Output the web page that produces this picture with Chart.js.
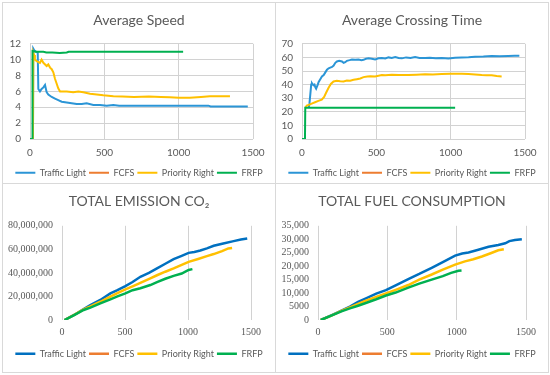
<!DOCTYPE html>
<html>
<head>
<meta charset="utf-8">
<script src="https://cdn.jsdelivr.net/npm/chart.js@4.4.1/dist/chart.umd.min.js"></script>
<style>
  body { margin: 0; width: 550px; height: 375px; background: #fff; position: relative; overflow: hidden; }
  .frame { position: absolute; left: 2px; top: 2px; width: 547px; height: 371px; border: 1px solid #d9d9d9; box-sizing: border-box; }
  .vline { position: absolute; left: 275px; top: 2px; width: 1px; height: 371px; background: #d9d9d9; }
  .hline { position: absolute; left: 2px; top: 183px; width: 547px; height: 1px; background: #d9d9d9; }
  canvas { position: absolute; }
</style>
</head>
<body>
<div class="frame"></div>
<div class="vline"></div>
<div class="hline"></div>
<canvas id="speed" width="272" height="180" style="left:3px;top:3px"></canvas>
<canvas id="crossing" width="272" height="180" style="left:276px;top:3px"></canvas>
<canvas id="emission" width="272" height="180" style="left:3px;top:184px"></canvas>
<canvas id="fuel" width="272" height="180" style="left:276px;top:184px"></canvas>
<script>
    var seriesNames = ['Traffic Light', 'FCFS', 'Priority Right', 'FRFP'];

    // Average Speed
    var speedTrafficX = [0, 20, 22, 28, 40, 52, 56, 67, 78, 90, 101, 112, 123, 146, 168, 190, 213, 247, 280, 314, 348, 381, 426, 471, 516, 560, 600, 700, 800, 900, 1000, 1100, 1200, 1215, 1300, 1400, 1465];
    var speedTrafficY = [0, 0, 11.4, 11.2, 11.0, 10.9, 6.3, 6.0, 6.3, 6.5, 6.8, 5.9, 5.6, 5.3, 5.1, 4.9, 4.7, 4.6, 4.5, 4.4, 4.4, 4.5, 4.3, 4.3, 4.2, 4.3, 4.2, 4.2, 4.2, 4.2, 4.2, 4.2, 4.2, 4.1, 4.1, 4.1, 4.1];
    var speedPriorityX = [0, 20, 22, 28, 33, 45, 67, 78, 90, 112, 123, 135, 146, 157, 168, 179, 190, 202, 247, 291, 325, 359, 404, 449, 493, 561, 620, 700, 800, 880, 940, 1000, 1075, 1150, 1210, 1280, 1345];
    var speedPriorityY = [0, 0, 10.9, 10.6, 10.0, 9.8, 9.6, 10.0, 9.6, 9.2, 9.4, 9.0, 8.8, 8.4, 7.6, 7.0, 6.4, 6.0, 6.0, 5.9, 6.0, 5.9, 5.7, 5.6, 5.5, 5.4, 5.35, 5.3, 5.35, 5.3, 5.25, 5.2, 5.2, 5.3, 5.4, 5.4, 5.4];
    var speedFrfpX = [0, 15, 17, 40, 90, 110, 150, 200, 247, 260, 400, 600, 800, 1030];
    var speedFrfpY = [0, 0, 11.1, 11.0, 11.0, 10.9, 10.9, 10.85, 10.9, 11.0, 11.0, 11.0, 11.0, 11.0];

    // Average Crossing Time
    var crossTrafficX = [45, 50, 56, 62, 67, 73, 78, 84, 90, 95, 100, 106, 112, 123, 134, 146, 157, 168, 179, 190, 202, 213, 224, 235, 250, 269, 280, 291, 302, 320, 336, 358, 380, 400, 414, 430, 448, 470, 492, 515, 537, 560, 582, 604, 627, 650, 672, 700, 730, 761, 790, 828, 860, 900, 940, 985, 1030, 1075, 1120, 1164, 1220, 1276, 1330, 1388, 1430, 1462];
    var crossTrafficY = [23, 26, 33, 40, 41, 40, 39.5, 40, 38, 37, 37, 40, 42, 44, 46, 47, 49, 51, 52, 52.5, 53, 54, 56, 57, 57.5, 57, 56, 56.5, 57.5, 58, 58.5, 58.3, 58.5, 58, 58.2, 59, 59.3, 59, 58.5, 59.3, 59.5, 59.2, 60, 59.6, 60.2, 59.5, 59.3, 60, 59.5, 60.2, 59.6, 59.5, 59.8, 59.4, 59.6, 59.2, 59.8, 60, 60.1, 60.5, 60.6, 61, 60.9, 61.1, 61.3, 61.3];
    var crossPriorityX = [22, 32, 54, 65, 88, 110, 133, 149, 162, 178, 194, 212, 234, 257, 279, 302, 324, 347, 369, 392, 414, 440, 459, 492, 537, 560, 604, 650, 716, 770, 828, 880, 940, 1000, 1075, 1120, 1164, 1209, 1240, 1276, 1310, 1343];
    var crossPriorityY = [23, 24.5, 25.5, 26, 27, 28, 29, 31, 34, 37.5, 40.5, 42.3, 42.8, 42.5, 42.3, 43, 42.8, 43.5, 44, 44.5, 45.5, 46, 46.2, 46, 47, 46.8, 47.2, 47, 47, 47.3, 47.6, 47.5, 47.8, 48, 48, 47.8, 47.5, 47, 46.8, 46.8, 46.3, 46];
    var crossFrfpX = [0, 20, 22, 1030];
    var crossFrfpY = [0, 0, 23, 23];

    // Total Emission CO2
    var emisTrafficX = [20, 100, 172, 225, 304, 384, 440, 503, 560, 622, 690, 754, 820, 886, 950, 1005, 1050, 1098, 1150, 1204, 1280, 1362, 1420, 1470];
    var emisTrafficY = [0, 4500000, 9300000, 12700000, 17000000, 22600000, 25300000, 28800000, 32300000, 36700000, 40000000, 43800000, 47800000, 51700000, 54500000, 57000000, 57800000, 59000000, 60800000, 63000000, 65000000, 67000000, 68300000, 69200000];
    var emisPriorityX = [20, 100, 172, 225, 304, 384, 440, 503, 560, 622, 701, 754, 820, 886, 950, 1005, 1080, 1150, 1204, 1270, 1320, 1350];
    var emisPriorityY = [0, 4500000, 9000000, 11500000, 15500000, 19800000, 22800000, 26000000, 28600000, 31500000, 35300000, 38000000, 41000000, 43800000, 46800000, 49400000, 51800000, 54200000, 56000000, 58500000, 60800000, 61200000];
    var emisFrfpX = [20, 100, 172, 225, 304, 384, 440, 503, 560, 622, 701, 754, 820, 886, 950, 1005, 1035];
    var emisFrfpY = [0, 4300000, 8500000, 10500000, 14100000, 17500000, 20000000, 22600000, 25300000, 27000000, 29700000, 32200000, 35000000, 37500000, 39500000, 42500000, 43200000];

    // Total Fuel Consumption
    var fuelTrafficX = [20, 100, 169, 230, 289, 350, 420, 490, 560, 651, 730, 820, 900, 989, 1040, 1085, 1150, 1230, 1300, 1350, 1380, 1420, 1470];
    var fuelTrafficY = [0, 1800, 3500, 5000, 6700, 8100, 9800, 11100, 12900, 15200, 17100, 19400, 21500, 23900, 24700, 25100, 26000, 27200, 27900, 28500, 29300, 29700, 30000];
    var fuelPriorityX = [20, 100, 169, 230, 289, 350, 420, 490, 560, 651, 730, 820, 900, 989, 1060, 1120, 1182, 1250, 1300, 1340];
    var fuelPriorityY = [0, 1700, 3400, 4700, 6000, 7300, 8600, 9900, 11200, 13000, 15000, 16900, 18700, 20600, 21800, 22600, 23600, 24900, 25900, 26300];
    var fuelFrfpX = [20, 100, 169, 230, 289, 350, 420, 490, 560, 651, 730, 820, 900, 960, 1013, 1035];
    var fuelFrfpY = [0, 1700, 3200, 4300, 5300, 6400, 7700, 9100, 10200, 12000, 13500, 15000, 16300, 17500, 18300, 18400];

    var xTicks = [0, 500, 1000, 1500];
    var gridColor = '#d2d2d2';

    Chart.defaults.font.family = 'Lato, "Noto Sans", sans-serif';
    Chart.defaults.color = '#595959';

function points(xs, ys) {
    return xs.map(function(x, i) { return {x: x, y: ys[i]}; });
}

function excelNumber(v) {
    return v >= 10000 ? v.toLocaleString('en-US') : String(v);
}

function makeChart(id, cfg) {
    var colors = [cfg.blue, '#ED7D31', '#FFC000', '#00B050'];
    var series = [cfg.traffic, [], cfg.priority, cfg.frfp];
    var datasets = series.map(function(s, i) {
        return {
            label: seriesNames[i],
            data: s,
            borderColor: colors[i],
            backgroundColor: colors[i],
            borderWidth: cfg.lineWidth,
            pointRadius: 0,
            tension: 0,
            fill: false,
            order: 3 - i   // FRFP drawn last, on top
        };
    });
    var tickFont = { size: 10, family: cfg.tickFamily };
    var ctx = document.getElementById(id).getContext('2d');
    return new Chart(ctx, {
        type: 'line',
        data: { datasets: datasets },
        options: {
            responsive: false,
            animation: false,
            devicePixelRatio: 1,
            plugins: {
                title: {
                    display: true,
                    text: cfg.title,
                    color: '#595959',
                    font: { size: 14, weight: 'normal' },
                    padding: { top: cfg.titleTop, bottom: cfg.titleBottom }
                },
                legend: {
                    position: 'bottom',
                    maxHeight: 17.7,
                    labels: {
                        usePointStyle: true,
                        pointStyle: 'line',
                        pointStyleWidth: 20,
                        padding: 3,
                        color: '#595959',
                        font: { size: 9 },
                        sort: function(a, b) { return a.datasetIndex - b.datasetIndex; }
                    }
                },
                tooltip: { enabled: false }
            },
            scales: {
                x: {
                    type: 'linear',
                    min: 0,
                    max: 1500,
                    afterBuildTicks: function(scale) {
                        scale.ticks = xTicks.map(function(v) { return {value: v}; });
                    },
                    afterFit: function(scale) { scale.height = 26.3; },
                    grid: { color: gridColor, drawTicks: false },
                    border: { display: false },
                    ticks: {
                        padding: cfg.xPad,
                        maxRotation: 0,
                        font: tickFont,
                        callback: function(v) { return String(v); }
                    }
                },
                y: {
                    type: 'linear',
                    min: 0,
                    max: cfg.yMax,
                    afterFit: function(scale) { scale.width = cfg.yWidth; },
                    grid: { display: cfg.hGrid, color: gridColor, drawTicks: false },
                    border: { display: false },
                    ticks: {
                        stepSize: cfg.yStep,
                        autoSkip: false,
                        padding: 9,
                        font: tickFont,
                        callback: cfg.yFormat
                    }
                },
                // empty right-hand axis, only reserves room so the legend stays centred
                spacer: {
                    type: 'linear',
                    position: 'right',
                    afterFit: function(scale) { scale.width = cfg.rightWidth; },
                    grid: { display: false, drawTicks: false },
                    border: { display: false },
                    ticks: { display: false }
                }
            }
        }
    });
}

window.onload = function() {
    window.speedChart = makeChart('speed', {
        title: 'Average Speed', tickFamily: 'Lato',
        blue: '#2B95D6', lineWidth: 2, hGrid: true,
        traffic: points(speedTrafficX, speedTrafficY),
        priority: points(speedPriorityX, speedPriorityY),
        frfp: points(speedFrfpX, speedFrfpY),
        yMax: 12, yStep: 2, yWidth: 27, rightWidth: 22,
        titleTop: 9, titleBottom: 15, xPad: 8,
        yFormat: function(v) { return String(v); }
    });

    window.crossingChart = makeChart('crossing', {
        title: 'Average Crossing Time', tickFamily: 'Lato',
        blue: '#2B95D6', lineWidth: 2, hGrid: true,
        traffic: points(crossTrafficX, crossTrafficY),
        priority: points(crossPriorityX, crossPriorityY),
        frfp: points(crossFrfpX, crossFrfpY),
        yMax: 70, yStep: 10, yWidth: 26, rightWidth: 23,
        titleTop: 9, titleBottom: 15, xPad: 8,
        yFormat: function(v) { return String(v); }
    });

    window.emissionChart = makeChart('emission', {
        title: 'TOTAL EMISSION CO\u2082', tickFamily: '"Liberation Serif", serif',
        blue: '#0070C0', lineWidth: 2.5, hGrid: false,
        traffic: points(emisTrafficX, emisTrafficY),
        priority: points(emisPriorityX, emisPriorityY),
        frfp: points(emisFrfpX, emisFrfpY),
        yMax: 80000000, yStep: 20000000, yWidth: 59, rightWidth: 24,
        titleTop: 9, titleBottom: 16, xPad: 6,
        yFormat: excelNumber
    });

    window.fuelChart = makeChart('fuel', {
        title: 'TOTAL FUEL CONSUMPTION', tickFamily: '"Liberation Serif", serif',
        blue: '#0070C0', lineWidth: 2.5, hGrid: false,
        traffic: points(fuelTrafficX, fuelTrafficY),
        priority: points(fuelPriorityX, fuelPriorityY),
        frfp: points(fuelFrfpX, fuelFrfpY),
        yMax: 35000, yStep: 5000, yWidth: 42, rightWidth: 22,
        titleTop: 9, titleBottom: 16, xPad: 6,
        yFormat: excelNumber
    });
};
</script>
</body>
</html>
